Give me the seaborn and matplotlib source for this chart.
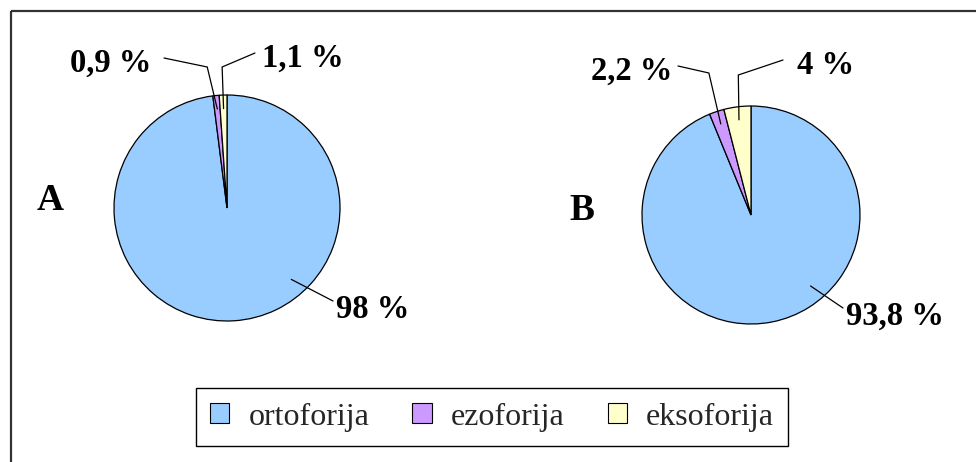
import matplotlib
matplotlib.use("Agg")
import matplotlib.pyplot as plt
import seaborn as sns
import numpy as np
from matplotlib.patches import Rectangle, Patch

# Data
categories = ["ortoforija", "ezoforija", "eksoforija"]
values_a = [98.0, 0.9, 1.1]
values_b = [93.8, 2.2, 4.0]
labels_a = ["98 %", "0,9 %", "1,1 %"]
labels_b = ["93,8 %", "2,2 %", "4 %"]
panel_names = ["A", "B"]
colors = ["#99CCFF", "#CC99FF", "#FFFFCC"]

sns.set_theme(style="white", palette=colors)
plt.rcParams["font.family"] = ["Liberation Serif", "DejaVu Serif"]

W, H = 976, 462
fig = plt.figure(figsize=(W / 100, H / 100), dpi=100)
ax = fig.add_axes([0, 0, 1, 1])

# layout of each panel (pixel space, y grows downward)
panels = [
    dict(values=values_a, labels=labels_a, name=panel_names[0],
         center=(227, 208), radius=113, name_xy=(50, 200),
         big_angle=48, big_text=(336, 309),
         small=[dict(elbow_y=67, shift=-6, text=(151, 63), ha="right", gap=13),
                dict(elbow_y=67, shift=0, text=(262, 58), ha="left", gap=7)]),
    dict(values=values_b, labels=labels_b, name=panel_names[1],
         center=(751, 215), radius=109, name_xy=(582, 210),
         big_angle=50, big_text=(846, 316),
         small=[dict(elbow_y=73, shift=5, text=(672, 71), ha="right", gap=6),
                dict(elbow_y=75, shift=5, text=(797, 65), ha="left", gap=14)]),
]

wedge_kw = dict(edgecolor="black", linewidth=0.9)
label_font = dict(fontsize=23.5, fontweight="bold", color="black")

for p in panels:
    cx, cy = p["center"]
    r = p["radius"]
    vals = np.asarray(p["values"], dtype=float)
    # y axis is inverted below, so counterclockwise in data is clockwise on screen
    ax.pie(vals, colors=colors, startangle=-90, counterclock=True,
           center=(cx, cy), radius=r, wedgeprops=wedge_kw)

    # wedge angles in data space
    ang = -90 + np.concatenate([[0], np.cumsum(vals)]) / vals.sum() * 360
    mids = np.deg2rad((ang[:-1] + ang[1:]) / 2)

    # leaders for the two thin slices
    for i, spec in zip([1, 2], p["small"]):
        th = mids[i]
        ux, uy = np.cos(th), np.sin(th)
        ax0, ay0 = cx + 0.88 * r * ux, cy + 0.88 * r * uy
        t = (spec["elbow_y"] - cy) / uy
        ex, ey = cx + t * ux + spec["shift"], spec["elbow_y"]
        tx, ty = spec["text"]
        lx = tx + spec["gap"] if spec["ha"] == "right" else tx - spec["gap"]
        ly = ty - 5
        ax.plot([ax0, ex, lx], [ay0, ey, ly], color="black", lw=0.9,
                solid_joinstyle="miter")
        ax.text(tx, ty, p["labels"][i], ha=spec["ha"], va="center", **label_font)

    # leader for the large slice
    th = np.deg2rad(p["big_angle"])
    ux, uy = np.cos(th), np.sin(th)
    bx, by = p["big_text"]
    ax.plot([cx + 0.85 * r * ux, bx - 3], [cy + 0.85 * r * uy, by - 8],
            color="black", lw=0.9)
    ax.text(bx, by, p["labels"][0], ha="left", va="center", **label_font)

    ax.text(*p["name_xy"], p["name"], ha="center", va="center",
            fontsize=27, fontweight="bold", color="black")

# outer chart border
ax.add_patch(Rectangle((11, 11), 1200, 800, fill=False, edgecolor="#333333",
                       linewidth=1.6))

ax.set_xlim(0, W)
ax.set_ylim(H, 0)
ax.set_aspect("equal")
ax.axis("off")

handles = [Patch(facecolor=c, edgecolor="black", linewidth=0.8) for c in colors]
leg = ax.legend(handles, categories, loc="center",
                bbox_to_anchor=(492 / W, 1 - 417 / H), bbox_transform=fig.transFigure,
                ncol=3, frameon=True, fancybox=False, edgecolor="black",
                prop=dict(size=23), handlelength=0.6, handleheight=0.6,
                handletextpad=0.6, columnspacing=1.35, borderpad=0.45,
                borderaxespad=0)
leg.get_frame().set_linewidth(1.0)
leg.get_frame().set_alpha(1)

fig.savefig("out.png", dpi=100, facecolor="white")
